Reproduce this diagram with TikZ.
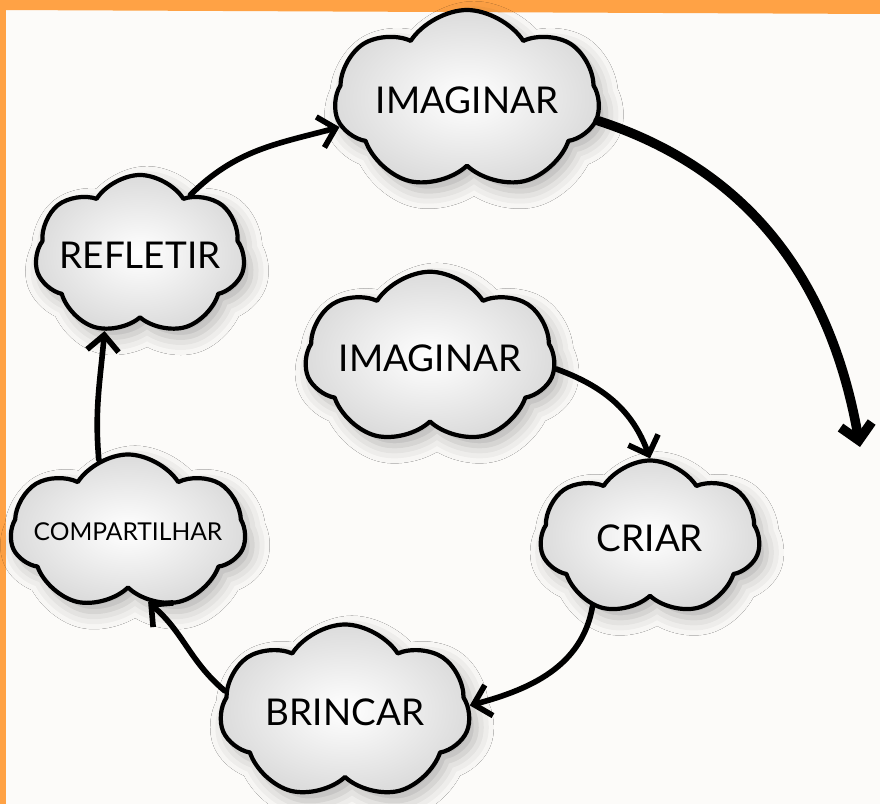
\documentclass[tikz,border=0pt]{standalone}
\usepackage{fontspec}
\setmainfont{Lato}
\usetikzlibrary{shapes.symbols,arrows.meta,shadows.blur}
\definecolor{frame}{HTML}{FFA245}
\definecolor{paper}{HTML}{FCFBF9}
\begin{document}
\begin{tikzpicture}[x=0.02cm,y=0.02cm,line cap=round,line join=round,font=\fontsize{21}{24}\selectfont,
  bubble/.style={cloud,cloud puffs=7,cloud puff arc=115,cloud ignores aspect,draw,line width=2.4pt,inner sep=0pt,
    shading=radial,inner color=white,outer color=black!14,
    blur shadow={shadow xshift=4pt,shadow yshift=-5pt,shadow blur radius=10pt,shadow opacity=30}},
  link/.style={line width=3.2pt,-{Straight Barb[length=9pt,width=18pt]}}]
% paper and orange edge
\fill[paper] (0,0) rectangle (880,804);
\fill[frame] (0,804)--(880,804)--(880,790)--(0,794)--cycle;
\fill[frame] (0,0) rectangle (6,804);
\useasboundingbox (0,0) rectangle (880,804);
% the clouds
\node[bubble,minimum width=5.3cm,minimum height=3.6cm,label=center:IMAGINAR] (img1) at (467,704) {};
\node[bubble,minimum width=4.2cm,minimum height=3.2cm,label=center:REFLETIR] (refl) at (140,549) {};
\node[bubble,minimum width=5.0cm,minimum height=3.45cm,label=center:IMAGINAR] (img2) at (430,446) {};
\node[bubble,minimum width=4.4cm,minimum height=3.1cm,label=center:CRIAR] (criar) at (650,266) {};
\node[bubble,minimum width=4.7cm,minimum height=3.1cm,
  label={[font=\fontsize{14}{16}\selectfont]center:COMPARTILHAR}] (comp) at (128,272) {};
\node[bubble,minimum width=5.0cm,minimum height=3.5cm,label=center:BRINCAR] (brinc) at (345,92) {};
\coordinate (tip) at (860,357);
% the cycle
\draw[link] (refl.50) to[out=45,in=195] (img1.192);
\draw[link,line width=5.4pt] (img1.-9) to[out=-18,in=100] (tip);
\draw[link] (img2.-5) to[out=-20,in=110] (criar.90);
\draw[link] (criar.230) to[out=-100,in=15] (brinc.3);
\draw[link] (brinc.170) to[out=140,in=-40] (comp.-74);
\draw[link] (comp.112) to[out=95,in=-95] (refl.-115);
\end{tikzpicture}
\end{document}
